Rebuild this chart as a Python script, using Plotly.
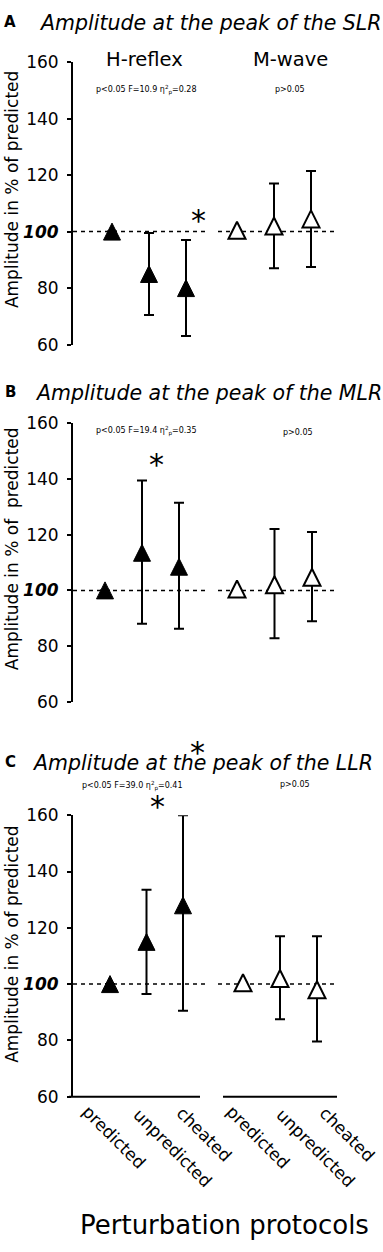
import plotly.graph_objects as go

W, H = 383, 1252
FONT = "DejaVu Sans"

# ---------------- data ----------------
categories = ["predicted", "unpredicted", "cheated"]
panel_letters = ["A", "B", "C"]
panel_titles = ["Amplitude at the peak of the SLR",
                "Amplitude at the peak of the MLR",
                "Amplitude at the peak of the LLR"]
group_labels = ["H-reflex", "M-wave"]
y_ticks = [60, 80, 100, 120, 140, 160]
y_ticktext = ["60", "80", "<b><i>100</i></b>", "120", "140", "160"]
y_titles = ["Amplitude in % of predicted",
            "Amplitude in % of\u00a0 predicted",
            "Amplitude in % of predicted"]
x_title = "Perturbation protocols"

stats_h = ["p<0.05 F=10.9 η<sup>2</sup><sub>p</sub>=0.28",
           "p<0.05 F=19.4 η<sup>2</sup><sub>p</sub>=0.35",
           "p<0.05 F=39.0 η<sup>2</sup><sub>p</sub>=0.41"]
stats_m = ["p>0.05", "p>0.05", "p>0.05"]

# SLR (panel A)
slr_h_mean = [100, 85, 80]
slr_h_plus = [0, 14.5, 17]
slr_h_minus = [0, 14.5, 17]
slr_m_mean = [100.5, 102, 104.5]
slr_m_plus = [0, 15, 17]
slr_m_minus = [0, 15, 17]
# MLR (panel B)
mlr_h_mean = [100, 113.5, 108.5]
mlr_h_plus = [0, 26, 23]
mlr_h_minus = [0, 25.5, 22.3]
mlr_m_mean = [100.5, 102, 104.7]
mlr_m_plus = [0, 20, 16.3]
mlr_m_minus = [0, 19.2, 15.8]
# LLR (panel C)
llr_h_mean = [100, 115, 128]
llr_h_plus = [0, 18.5, 32]
llr_h_minus = [0, 18.5, 37.5]
llr_m_mean = [100.5, 102, 98]
llr_m_plus = [0, 15, 19]
llr_m_minus = [0, 14.5, 18.4]

h_means = [slr_h_mean, mlr_h_mean, llr_h_mean]
h_plus = [slr_h_plus, mlr_h_plus, llr_h_plus]
h_minus = [slr_h_minus, mlr_h_minus, llr_h_minus]
m_means = [slr_m_mean, mlr_m_mean, llr_m_mean]
m_plus = [slr_m_plus, mlr_m_plus, llr_m_plus]
m_minus = [slr_m_minus, mlr_m_minus, llr_m_minus]

# ---------------- layout geometry (pixels) ----------------
panel_y = [(53, 340), (420, 703), (818.3, 1104.3)]
h_dom = (73, 205)
m_dom = (218, 338)
h_pos = [(112, 186), (105, 179), (110, 183)]
m_pos = [(237, 311), (237, 312), (243, 317)]
MS = 17


def xrange_for(dom, pos):
    s = (pos[1] - pos[0]) / 2.0
    r0 = -(pos[0] - dom[0]) / s
    r1 = r0 + (dom[1] - dom[0]) / s
    return [r0, r1]


def px(x):
    return x / W


def py(y):
    return 1 - y / H


fig = go.Figure()
layout = dict(width=W, height=H, margin=dict(l=0, r=0, t=0, b=0),
              paper_bgcolor="white", plot_bgcolor="white",
              font=dict(family=FONT, color="black"), showlegend=False)
shapes = []
annotations = []


def ann(text, x, y, size, **kw):
    d = dict(text=text, x=px(x), y=py(y), xref="paper", yref="paper",
             showarrow=False, font=dict(size=size, color="black", family=FONT),
             xanchor="center", yanchor="middle")
    d.update(kw)
    annotations.append(d)


for i in range(3):
    xh = "x" if i == 0 else f"x{2 * i + 1}"
    xm = f"x{2 * i + 2}"
    yn = "y" if i == 0 else f"y{i + 1}"
    xh_key = "xaxis" if i == 0 else f"xaxis{2 * i + 1}"
    xm_key = f"xaxis{2 * i + 2}"
    y_key = "yaxis" if i == 0 else f"yaxis{i + 1}"

    layout[y_key] = dict(domain=[py(panel_y[i][1]), py(panel_y[i][0])], range=[60, 160],
                         anchor=xh, showline=True, linecolor="black", linewidth=2,
                         ticks="outside", ticklen=4, tickwidth=2, tickcolor="black",
                         tickvals=y_ticks, ticktext=y_ticktext, ticklabelstandoff=5,
                         tickfont=dict(size=17, color="black", family=FONT),
                         showgrid=False, zeroline=False)
    layout[xh_key] = dict(domain=[px(h_dom[0]), px(h_dom[1])], anchor=yn, type="category",
                          categoryarray=categories, range=xrange_for(h_dom, h_pos[i]),
                          visible=False)
    layout[xm_key] = dict(domain=[px(m_dom[0]), px(m_dom[1])], anchor=yn, type="category",
                          categoryarray=categories, range=xrange_for(m_dom, m_pos[i]),
                          visible=False)

    for xa, means, pl, mi, fill in [(xh, h_means[i], h_plus[i], h_minus[i], "black"),
                                    (xm, m_means[i], m_plus[i], m_minus[i], "white")]:
        fig.add_trace(go.Scatter(
            x=categories, y=means, xaxis=xa, yaxis=yn, mode="markers",
            marker=dict(symbol="arrow-down", angle=180, standoff=MS / 2, size=MS,
                        color=fill, line=dict(color="black", width=2 if fill == "white" else 1)),
            error_y=dict(type="data", symmetric=False, array=pl, arrayminus=mi,
                         color="black", thickness=2, width=5),
            cliponaxis=False, showlegend=False, hoverinfo="skip"))
        shapes.append(dict(type="line", xref=f"{xa} domain", x0=0, x1=1, yref=yn,
                           y0=100, y1=100, layer="below",
                           line=dict(color="black", width=1.5, dash="4px,4px")))

# x axis lines of panel C (broken axis)
shapes.append(dict(type="line", xref="paper", yref="paper", x0=px(69), x1=px(200),
                   y0=py(1104.3), y1=py(1104.3), line=dict(color="black", width=2)))
shapes.append(dict(type="line", xref="paper", yref="paper", x0=px(223), x1=px(337),
                   y0=py(1104.3), y1=py(1104.3), line=dict(color="black", width=2)))

# panel letters and titles
letter_y = [12, 388, 764]
title_x = [37, 33, 30]
for i in range(3):
    ann(f"<b>{panel_letters[i]}</b>", 10, letter_y[i], 15)
    ann(f"<i>{panel_titles[i]}</i>", title_x[i], letter_y[i] + 1, 20.5, xanchor="left")
    ann(y_titles[i], 12, [183, 548, 950][i], 17, textangle=-90)

# group labels (panel A)
ann(group_labels[0], 144, 50, 19.5)
ann(group_labels[1], 290, 50, 19.5)

# statistics
stat_h_pos = [(146, 81), (146, 428), (132, 789)]
stat_m_pos = [(290, 81), (298, 429), (295, 787)]
for i in range(3):
    ann(stats_h[i], stat_h_pos[i][0], stat_h_pos[i][1], 8)
    ann(stats_m[i], stat_m_pos[i][0], stat_m_pos[i][1], 8)

# significance asterisks
for (ax, ay) in [(198, 207), (156, 455), (197, 748), (157, 802)]:
    ann("*", ax, ay + 7, 30)

# x tick labels (panel C), rotated
tick_centers = [(114, 1145), (173, 1156), (204, 1142), (258, 1145), (316, 1156), (347, 1142)]
for k, (cx, cy) in enumerate(tick_centers):
    ann(categories[k % 3], cx, cy, 17, textangle=45)

ann(x_title, 224, 1235, 26)

layout["shapes"] = shapes
layout["annotations"] = annotations
fig.update_layout(**layout)
fig.write_html("out.html", config={"displayModeBar": False},
               post_script="document.body.style.margin='0';document.body.style.overflow='hidden';")
